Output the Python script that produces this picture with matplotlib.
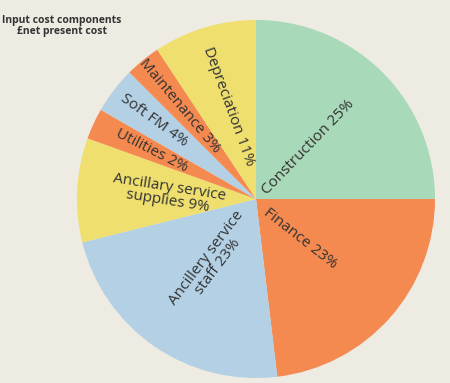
import numpy as np
import matplotlib
matplotlib.use("Agg")
import matplotlib.pyplot as plt

# wedge sizes as drawn (labels carry the printed percentages)
labels = ["Construction 25%", "Finance 23%", "Ancillery service\nstaff 23%",
          "Ancillary service\nsupplies 9%", "Utilities 2%", "Soft FM 4%",
          "Maintenance 3%", "Depreciation 11%"]
shares = [25, 23.1, 23, 9.4, 2.8, 4.2, 3.2, 9.3]
colors = ["#a8d9b8", "#f58a50", "#b3d0e5", "#eedf6e",
          "#f58a50", "#b3d0e5", "#f58a50", "#eedf6e"]
label_r = [0.41, 0.33, 0.43, 0.49, 0.64, 0.72, 0.67, 0.54]
label_rot = [46, -38, 53, -9, -27, -36, -50, -70]

bg = "#eeebe2"
fig = plt.figure(figsize=(4.5, 3.83), dpi=100, facecolor=bg)
ax = fig.add_axes([77 / 450, 5 / 383, 358 / 450, 358 / 383])
ax.set_facecolor(bg)

wedges, _ = ax.pie(shares, colors=colors, startangle=90, counterclock=False,
                   radius=1, wedgeprops=dict(linewidth=0))
ax.set_xlim(-1, 1)
ax.set_ylim(-1, 1)
ax.set_aspect("equal")
ax.axis("off")

for w, lab, r, rot in zip(wedges, labels, label_r, label_rot):
    mid = (w.theta1 + w.theta2) / 2
    x = r * np.cos(np.radians(mid))
    y = r * np.sin(np.radians(mid))
    ax.text(x, y, lab, rotation=rot, rotation_mode="anchor", ha="center",
            va="center", fontsize=11, color="#333333", family="Open Sans",
            linespacing=0.92)

fig.text(62 / 450, 1 - 26 / 383, "Input cost components\n£net present cost",
         ha="center", va="center", fontsize=7.5, fontweight="bold",
         color="#333333", family="Open Sans", linespacing=1.0)

fig.savefig("out.png", dpi=100, facecolor=bg)
